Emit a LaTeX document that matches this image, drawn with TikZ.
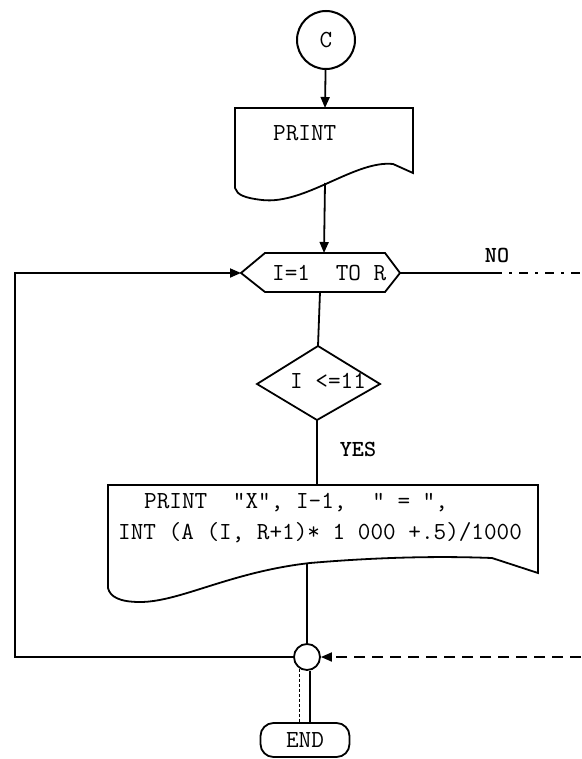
\documentclass[tikz,border=0pt]{standalone}
\usepackage{fontspec}
\usetikzlibrary{arrows.meta}
\newcommand\chsp{\hspace*{0.525em}}
\newcommand\twfont{\ttfamily\fontsize{24.5}{27}\selectfont}
\tikzset{
  flow/.style={line width=1.8pt},
  arr/.style={-{Triangle[length=11pt,width=9pt]}},
  txt/.style={font=\twfont, inner sep=0pt, anchor=west},
  lbl/.style={font=\ttfamily\bfseries\fontsize{23}{26}\selectfont, inner sep=0pt},
  dashln/.style={line width=1.8pt, dash pattern=on 11pt off 7pt},
}
\begin{document}
\begin{tikzpicture}[x=1pt,y=-1pt]
\useasboundingbox (0,0) rectangle (581,759);
% start connector
\node[draw, circle, line width=2pt, minimum size=58pt, inner sep=0pt, font=\twfont] (C) at (326,40) {C};
% first print box
\draw[flow] (235,108) -- (413,108) -- (413,173) -- (393,164) .. controls (355,160) and (305,205) .. (262,200) .. controls (245,198) and (237,195) .. (235,188) -- cycle;
\coordinate (p1in) at (325,108);
\coordinate (p1out) at (325,183);
\node[txt] (p1t) at (273,133) {PRINT};
\draw[flow,arr] (C) -- (p1in);
% loop hexagon
\coordinate (hL) at (241,273);
\coordinate (hR) at (400,273);
\coordinate (hT) at (324,253);
\coordinate (hB) at (320,292);
\draw[flow] (hL) -- (265,253) -- (385,253) -- (hR) -- (385,292) -- (265,292) -- cycle;
\node[txt] (ht) at (272,273) {I=1\chsp\chsp TO R};
\draw[flow,arr] (p1out) -- (hT);
% NO exit
\coordinate (noA) at (493,273);
\coordinate (noB) at (581,273);
\draw[flow] (hR) -- (noA);
\draw[flow, dash pattern=on 9pt off 7pt on 3pt off 7pt] (noA) -- (noB);
\node[lbl] (no) at (497,255) {NO};
% decision
\coordinate (dT) at (318,346);
\coordinate (dR) at (380,384);
\coordinate (dB) at (317,420);
\coordinate (dL) at (257,384);
\draw[flow] (dT) -- (dR) -- (dB) -- (dL) -- cycle;
\node[txt] (dt) at (290,381) {I <=11};
\draw[flow] (hB) -- (dT);
\node[lbl] (yes) at (358,449) {YES};
\coordinate (b2in) at (317,485);
\draw[flow] (dB) -- (b2in);
% second print box
\draw[flow] (108,485) -- (538,485) -- (538,573) -- (492,558) .. controls (440,556) and (380,557) .. (310,563) .. controls (230,572) and (180,602) .. (140,602) .. controls (120,602) and (110,597) .. (108,588) -- cycle;
\node[txt] (l1) at (144,503) {PRINT\chsp\chsp"X", I-1,\chsp\chsp" = ",};
\node[txt] (l2) at (118,533) {INT (A (I, R+1)* 1 000 +.5)/1000};
% join connector
\node[draw, circle, flow, minimum size=26pt, inner sep=0pt] (J) at (307,657) {};
\coordinate (b2out) at (307,563);
\draw[flow] (b2out) -- (J);
\coordinate (lb) at (15,657);
\coordinate (lt) at (15,273);
\draw[flow,arr] (J.west) -- (lb) -- (lt) -- (hL);
\coordinate (dr) at (581,657);
\draw[dashln,arr] (dr) -- (J.east);
% end terminal
\node[draw, flow, rounded corners=13pt, minimum width=89pt, minimum height=34pt, inner sep=0pt, font=\twfont] (E) at (305,740) {END};
\draw[line width=1.6pt, dash pattern=on 3pt off 2pt] (J.237) -- (J.237 |- E.north);
\draw[flow] (J.283) -- (J.283 |- E.north);
\end{tikzpicture}
\end{document}
